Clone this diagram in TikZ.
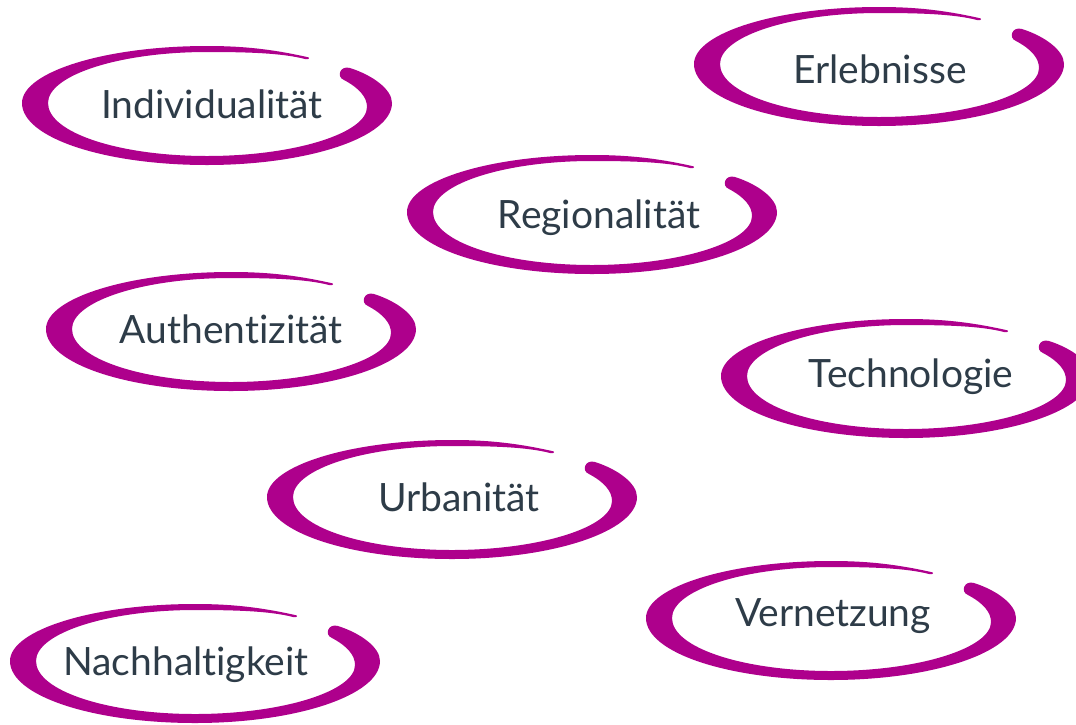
\documentclass[tikz,border=0pt]{standalone}
\usepackage{fontspec}
\setmainfont{Lato}[Ligatures={NoCommon,NoRare,NoContextual}]
\definecolor{brand}{RGB}{174,0,140}
\definecolor{txt}{RGB}{46,60,72}
\tikzset{
  swoosh/.pic={
    \fill[brand]
      (100,-48) .. controls (60,-57) and (30,-59) .. (0,-59)
      .. controls (-102,-59) and (-185,-33) .. (-185,-2)
      .. controls (-185,33) and (-102,60) .. (0,60)
      .. controls (102,60) and (185,32) .. (185,-2)
      .. controls (185,-16) and (165,-30) .. (143,-37)
      .. controls (133,-40) and (129,-28) .. (137,-25)
      .. controls (152,-17) and (160,-8) .. (160,2)
      .. controls (160,28) and (88,51) .. (0,51)
      .. controls (-87,51) and (-159,28) .. (-159,-2)
      .. controls (-159,-30) and (-87,-53) .. (0,-53)
      .. controls (40,-53) and (75,-52) .. (98,-46)
      .. controls (103,-45) and (103,-48) .. (100,-48) -- cycle;
  },
  lbl/.style={font=\fontsize{39}{47}\selectfont, text=txt, anchor=base, inner sep=0pt}
}
\begin{document}
\begin{tikzpicture}[x=1pt,y=-1pt]
\useasboundingbox (0,0) rectangle (1076,724);
\clip (0,0) rectangle (1076,724);
\pic at (207,105) {swoosh};
\pic at (879,66) {swoosh};
\pic at (592,214) {swoosh};
\pic at (231,331) {swoosh};
\pic at (906,378) {swoosh};
\pic at (452,499) {swoosh};
\pic at (831,620) {swoosh};
\pic at (195,663) {swoosh};
\node[lbl] (ind) at (212,118) {Individualität};
\node[lbl] (erl) at (880,83) {Erlebnisse};
\node[lbl] (reg) at (599,228) {Regionalität};
\node[lbl] (aut) at (231,343) {Authentizität};
\node[lbl] (tec) at (911,387) {Technologie};
\node[lbl] (urb) at (459,511) {Urbanität};
\node[lbl] (ver) at (833,626) {Vernetzung};
\node[lbl] (nac) at (186,675) {Nachhaltigkeit};
\end{tikzpicture}
\end{document}
